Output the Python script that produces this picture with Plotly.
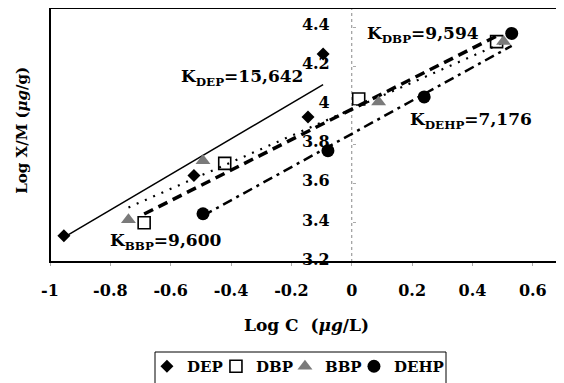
import plotly.graph_objects as go
import math

# ---- data ----
series_names = ["DEP", "DBP", "BBP", "DEHP"]
dep_x = [-0.954, -0.523, -0.145, -0.095]
dep_y = [3.334, 3.643, 3.942, 4.265]
dbp_x = [-0.688, -0.421, 0.023, 0.480]
dbp_y = [3.401, 3.705, 4.034, 4.328]
bbp_x = [-0.740, -0.493, 0.089, 0.503]
bbp_y = [3.416, 3.718, 4.019, 4.328]
dehp_x = [-0.493, -0.079, 0.240, 0.530]
dehp_y = [3.447, 3.770, 4.045, 4.370]

# Freundlich constants K and slopes (1/n) of the fitted lines
k_values = [15642, 9594, 9600, 7176]
k_labels = ["15,642", "9,594", "9,600", "7,176"]
slopes = [0.91, 0.78, 0.68, 0.85]

x_tick_vals = [-1, -0.8, -0.6, -0.4, -0.2, 0, 0.2, 0.4, 0.6]
x_tick_text = ["-1", "-0.8", "-0.6", "-0.4", "-0.2", "0", "0.2", "0.4", "0.6"]
y_tick_vals = [3.2, 3.4, 3.6, 3.8, 4.0, 4.2, 4.4]
y_tick_text = ["3.2", "3.4", "3.6", "3.8", "4", "4.2", "4.4"]

FONT = "DejaVu Serif"
def bf(size):
    return dict(family=FONT, size=size, color="black", weight="bold")

xs = [dep_x, dbp_x, bbp_x, dehp_x]
ys = [dep_y, dbp_y, bbp_y, dehp_y]

markers = [
    dict(symbol="diamond", size=10, color="black", line=dict(width=0)),
    dict(symbol="square-open", size=12, color="black", line=dict(width=1.6)),
    dict(symbol="triangle-up", size=13, color="#7a7a7a", line=dict(width=0)),
    dict(symbol="circle", size=13, color="black", line=dict(width=0)),
]
line_styles = [
    dict(color="black", width=1.5, dash="solid"),
    dict(color="black", width=3.5, dash="10px,6px"),
    dict(color="black", width=2.2, dash="2px,7px"),
    dict(color="black", width=2.5, dash="10px,5px,3px,5px"),
]

fig = go.Figure()

# fitted lines
for i, name in enumerate(series_names):
    b = math.log10(k_values[i])
    lx = [min(xs[i]), max(xs[i])]
    ly = [b + slopes[i] * v for v in lx]
    fig.add_trace(go.Scatter(x=lx, y=ly, mode="lines", line=line_styles[i],
                             showlegend=False, hoverinfo="skip"))

# data points
for i, name in enumerate(series_names):
    fig.add_trace(go.Scatter(x=xs[i], y=ys[i], mode="markers", name=name,
                             marker=markers[i]))
# empty spacer entry so the last legend label is not clipped
fig.add_trace(go.Scatter(x=[None], y=[None], mode="markers", name=" ",
                         marker=dict(size=1, opacity=0), hoverinfo="skip"))

# K annotations
ann_pos = [(-0.363, 4.144), (0.237, 4.363), (-0.616, 3.307), (0.396, 3.924)]
annotations = []
for i, name in enumerate(series_names):
    annotations.append(dict(
        x=ann_pos[i][0], y=ann_pos[i][1], xref="x", yref="y",
        text=f"K<sub>{name}</sub>={k_labels[i]}", showarrow=False,
        font=bf(17), xanchor="center", yanchor="middle"))

# y-axis title at the left edge
annotations.append(dict(
    x=-0.055, y=0.52, xref="paper", yref="paper",
    text="Log X/M (<i>μg</i>/g)", showarrow=False, textangle=-90,
    font=bf(15), xanchor="center", yanchor="middle"))

PH = 254.0  # plot height in px, for paper-coordinate placement below the plot
fig.update_layout(
    width=556, height=375,
    margin=dict(l=42, r=1, t=0, b=121, autoexpand=False),
    paper_bgcolor="white", plot_bgcolor="white",
    font=dict(family=FONT, color="black"),
    annotations=annotations,
    showlegend=True,
    legend=dict(orientation="h", x=0.189, y=(262 - 350) / PH,
                xanchor="left", yanchor="top",
                borderwidth=0, bgcolor="rgba(0,0,0,0)",
                font=bf(15), itemwidth=30, entrywidth=24,
                entrywidthmode="pixels"),
    shapes=[
        dict(type="rect", xref="paper", yref="paper", x0=0, y0=0, x1=1, y1=1,
             line=dict(color="black", width=2)),
        dict(type="line", xref="x", yref="paper", x0=0, x1=0, y0=0, y1=1,
             line=dict(color="#888888", width=1, dash="dot"), layer="below"),
        # legend frame
        dict(type="rect", xref="paper", yref="paper",
             x0=(155 - 50) / 513, x1=(446 - 50) / 513,
             y0=(262 - 395) / PH, y1=(262 - 352) / PH,
             line=dict(color="black", width=1)),
    ],
)

fig.update_xaxes(
    range=[-1, 0.7], tickvals=x_tick_vals, ticktext=x_tick_text,
    showgrid=False, zeroline=False, showline=False,
    ticks="outside", ticklen=3, tickcolor="#aaaaaa",
    ticklabelstandoff=11,
    tickfont=bf(16),
    title=dict(text="Log C  (<i>μg</i>/L)", standoff=19, font=bf(17)),
)
fig.update_yaxes(
    range=[3.2, 4.5], tickvals=y_tick_vals, ticktext=y_tick_text,
    anchor="free", position=1 / 1.7, side="left",
    showgrid=False, zeroline=False, showline=False,
    ticks="inside", ticklen=3, tickcolor="#aaaaaa",
    ticklabelstandoff=22, ticklabelshift=-3,
    tickfont=bf(16),
)

fig.write_html("out.html")
